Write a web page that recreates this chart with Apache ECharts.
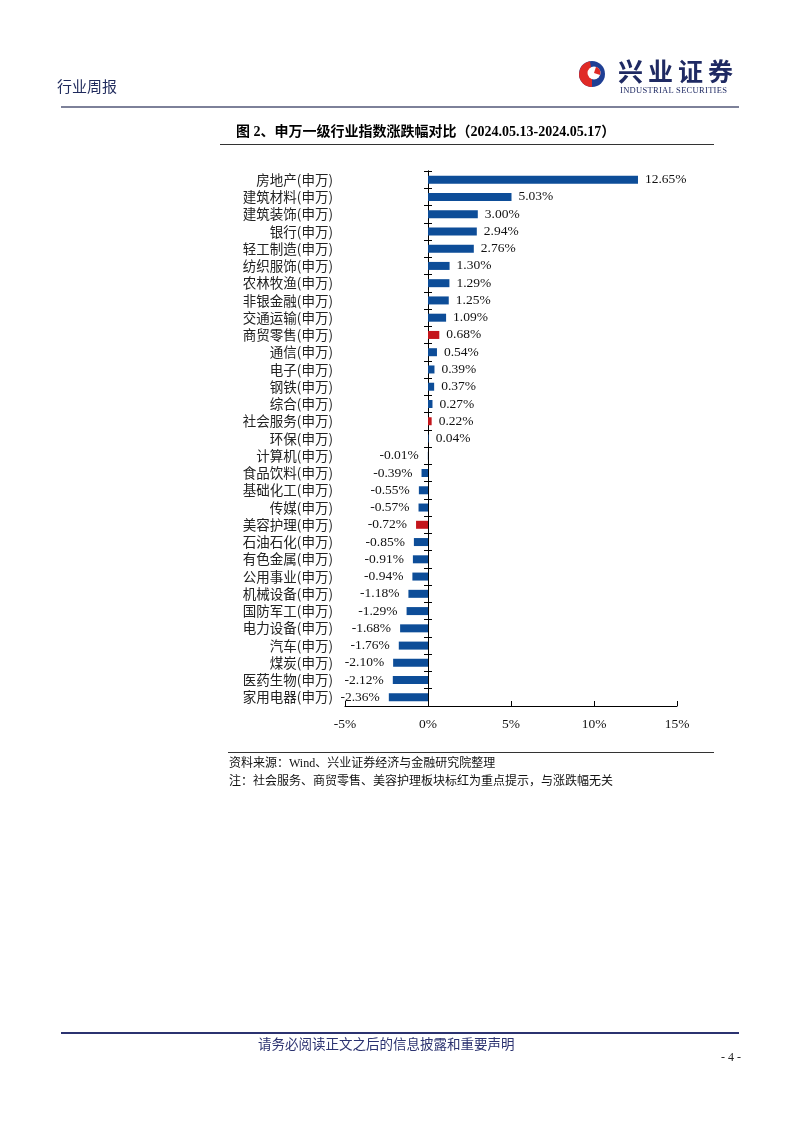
<!DOCTYPE html>
<html>
<head>
<meta charset="utf-8">
<script src="https://cdn.jsdelivr.net/npm/echarts@6/dist/echarts.min.js"></script>
<style>
  html, body { margin: 0; padding: 0; background: #fff; }
  body { width: 802px; height: 1133px; position: relative; overflow: hidden;
         font-family: "Liberation Serif", "Noto Sans CJK SC", serif; }
  #chart { position: absolute; left: 0; top: 0; width: 802px; height: 1133px; }
  .t { position: absolute; white-space: nowrap; line-height: 1; }
  .hline { position: absolute; }
</style>
</head>
<body>
<div id="chart"></div>

<div class="t" style="left:57px; top:78px; font-size:15px; color:#1f2a5c; font-family:'Noto Sans CJK SC';">行业周报</div>
<div class="t" style="left:618px; top:58px; font-size:25px; color:#1f2a63; font-weight:bold; letter-spacing:5px; font-family:'Noto Sans CJK SC';">兴业证券</div>
<div class="t" style="left:620px; top:86px; font-size:8.5px; color:#1f2a63; letter-spacing:0.3px; font-family:'Liberation Serif';">INDUSTRIAL SECURITIES</div>
<div class="hline" style="left:61px; top:106px; width:678px; height:2px; background:#7d8199;"></div>

<div class="t" style="left:236px; top:125px; font-size:14px; color:#000; font-weight:bold; font-family:'Liberation Serif','Noto Sans CJK SC';">图 2、申万一级行业指数涨跌幅对比（2024.05.13-2024.05.17）</div>
<div class="hline" style="left:220px; top:144px; width:494px; height:1px; background:#333;"></div>

<div class="hline" style="left:228px; top:752px; width:486px; height:1px; background:#333;"></div>
<div class="t" style="left:229px; top:757px; font-size:12px; color:#111; font-family:'Liberation Serif','Noto Sans CJK SC';">资料来源：Wind、兴业证券经济与金融研究院整理</div>
<div class="t" style="left:229px; top:775px; font-size:12px; color:#111; font-family:'Liberation Serif','Noto Sans CJK SC';">注：社会服务、商贸零售、美容护理板块标红为重点提示，与涨跌幅无关</div>

<div class="hline" style="left:61px; top:1032px; width:678px; height:2px; background:#2b3270;"></div>
<div class="t" style="left:258px; top:1037px; font-size:13.5px; color:#2b3270; font-family:'Noto Sans CJK SC';">请务必阅读正文之后的信息披露和重要声明</div>
<div class="t" style="left:721px; top:1051px; font-size:12px; color:#222; font-family:'Liberation Serif';">- 4 -</div>

<script>
// ---- data ----
const categories = ['房地产(申万)','建筑材料(申万)','建筑装饰(申万)','银行(申万)','轻工制造(申万)','纺织服饰(申万)','农林牧渔(申万)','非银金融(申万)','交通运输(申万)','商贸零售(申万)','通信(申万)','电子(申万)','钢铁(申万)','综合(申万)','社会服务(申万)','环保(申万)','计算机(申万)','食品饮料(申万)','基础化工(申万)','传媒(申万)','美容护理(申万)','石油石化(申万)','有色金属(申万)','公用事业(申万)','机械设备(申万)','国防军工(申万)','电力设备(申万)','汽车(申万)','煤炭(申万)','医药生物(申万)','家用电器(申万)'];
const values = [12.65,5.03,3.00,2.94,2.76,1.30,1.29,1.25,1.09,0.68,0.54,0.39,0.37,0.27,0.22,0.04,-0.01,-0.39,-0.55,-0.57,-0.72,-0.85,-0.91,-0.94,-1.18,-1.29,-1.68,-1.76,-2.10,-2.12,-2.36];
const highlighted = ['商贸零售(申万)','社会服务(申万)','美容护理(申万)'];
const xTicks = [-5, 0, 5, 10, 15];

const BLUE = '#0d4d98', RED = '#c4161c';
const chart = echarts.init(document.getElementById('chart'), null, {renderer: 'canvas'});

const seriesData = values.map((v, i) => ({
  value: v,
  itemStyle: { color: highlighted.includes(categories[i]) ? RED : BLUE },
  label: { position: v < 0 ? 'left' : 'right', distance: v < 0 ? 9 : 7 }
}));

const valFont = { fontFamily: 'Liberation Serif', fontSize: 13.5, color: '#111' };
const gridRect = { left: 345, right: 125, top: 171, bottom: 427, containLabel: false };

// logo drawing
const cx = 592, cy = 74, r = 13;

chart.setOption({
  animation: false,
  grid: [gridRect, Object.assign({}, gridRect)],
  xAxis: [{
    gridIndex: 0, type: 'value', min: xTicks[0], max: xTicks[xTicks.length-1], interval: 5,
    axisLine: { show: true, onZero: false, lineStyle: { color: '#000', width: 1 } },
    axisTick: { show: true, inside: true, length: 5, lineStyle: { color: '#000' } },
    splitLine: { show: false },
    axisLabel: { formatter: '{value}%', margin: 11, fontFamily: 'Liberation Serif', fontSize: 13.5, color: '#111' }
  }, {
    gridIndex: 1, type: 'value', min: xTicks[0], max: xTicks[xTicks.length-1], interval: 5,
    axisLine: { show: false }, axisTick: { show: false }, axisLabel: { show: false }, splitLine: { show: false }
  }],
  yAxis: [
    { gridIndex: 0, type: 'category', data: categories, inverse: true, position: 'left',
      axisLine: { show: false, onZero: false }, axisTick: { show: false },
      axisLabel: { interval: 0, margin: 12, fontFamily: 'Noto Sans CJK SC', fontSize: 13.5, color: '#222' } },
    { gridIndex: 0, type: 'category', data: categories, inverse: true, position: 'right',
      axisLine: { show: true, onZero: true, lineStyle: { color: '#000', width: 1 } },
      axisTick: { show: true, interval: 0, inside: true, length: 4, lineStyle: { color: '#000' } },
      axisLabel: { show: false } },
    { gridIndex: 1, type: 'category', data: categories, inverse: true, position: 'left',
      axisLine: { show: true, onZero: true, lineStyle: { color: '#000', width: 1 } },
      axisTick: { show: true, interval: 0, inside: true, length: 4, lineStyle: { color: '#000' } },
      axisLabel: { show: false } }
  ],
  series: [{
    type: 'bar', xAxisIndex: 0, yAxisIndex: 0, data: seriesData, barWidth: 8,
    label: Object.assign({ show: true, formatter: p => p.value.toFixed(2) + '%' }, valFont)
  }],
  graphic: [
    { type: 'circle', shape: { cx: cx, cy: cy, r: r }, style: { fill: '#1f3f94' } },
    { type: 'sector', shape: { cx: cx, cy: cy, r: r, r0: 0, startAngle: Math.PI*0.5, endAngle: Math.PI*1.45 }, style: { fill: '#e02a26' } },
    { type: 'circle', shape: { cx: cx+2, cy: cy-1, r: 6.5 }, style: { fill: '#fff' } },
    { type: 'sector', shape: { cx: cx+2, cy: cy-1, r: 6.5, r0: 0, startAngle: Math.PI*1.6, endAngle: Math.PI*2.1 }, style: { fill: '#e02a26' } }
  ]
});
</script>
</body>
</html>
